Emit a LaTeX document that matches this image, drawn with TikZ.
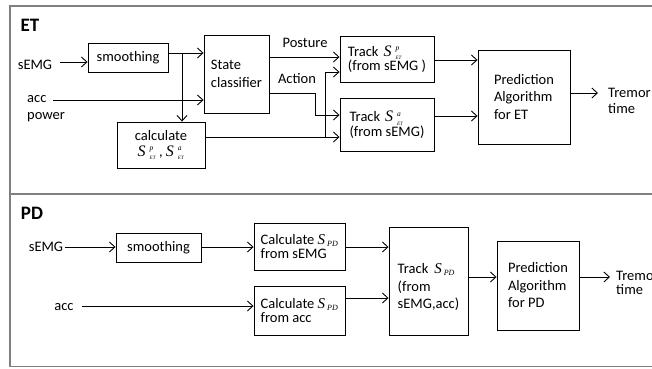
\documentclass[tikz,border=0pt]{standalone}
\usepackage{fontspec}
\setmainfont{Carlito}
\newfontfamily\tms{Liberation Serif}
\usetikzlibrary{arrows.meta,calc}

% italic S with stacked super/subscript, and with subscript only
\newcommand\Ssup[2]{{\tms\itshape\fontsize{16}{16}\selectfont S}\hspace{4pt}$\vphantom{X}^{\hbox{\tms\itshape\fontsize{7.5}{7.5}\selectfont #1}}_{\hbox{\tms\itshape\fontsize{5}{5}\selectfont #2}}$}
\newcommand\Ssub[1]{{\tms\itshape\fontsize{15}{15}\selectfont S}\hspace{2pt}$\vphantom{X}_{\hbox{\tms\itshape\fontsize{8}{8}\selectfont #1}}$}

\tikzset{
  frame/.style={draw=black!50, line width=1.3pt},
  box/.style={draw, line width=0.9pt, inner sep=0pt},
  txt/.style={inner sep=0pt},
  arr/.style={line width=0.9pt, -{Straight Barb[length=5.5pt,width=10pt]}},
}

\begin{document}
\begin{tikzpicture}[x=1pt,y=-1pt, font=\fontsize{14.5}{17.5}\selectfont]
\useasboundingbox (0,0) rectangle (652,368);

% panels
\draw[frame] (10,6) rectangle (690,194);
\draw[frame] (10,194) rectangle (690,366.5);

% ---------------- ET ----------------
\node[txt, font=\fontsize{19}{19}\selectfont\bfseries] (et) at (30,25) {ET};
\node[txt] (semg1) at (35,65) {sEMG};
\node[txt, align=left, anchor=west] (accp) at (27,108.5) {acc\\power};
\coordinate (semg1out) at (60,62);
\coordinate (accout) at (53,100);

\node[box, minimum width=80pt, minimum height=29pt] (sm1) at (128,57.5) {smoothing};
\node[box, minimum width=65pt, minimum height=78pt, align=left] (sc) at (236.5,74) {State\\classifier};
\node[box, minimum width=88pt, minimum height=46pt, align=center] (calc) at (161,145)
  {calculate\\[-2pt]\Ssup{p}{ET}\hspace{3pt}, \Ssup{a}{ET}};
\node[box, minimum width=94pt, minimum height=46pt, align=left] (tp) at (387,59)
  {Track\hspace{5pt}\Ssup{p}{ET}\\[-3pt](from sEMG )};
\node[box, minimum width=94pt, minimum height=53pt, align=left] (ta) at (387,124.5)
  {Track\hspace{5pt}\Ssup{a}{ET}\\[-3pt](from sEMG)};
\node[box, minimum width=92pt, minimum height=94pt, align=left] (pe) at (524,97)
  {Prediction\\Algorithm\\for ET};
\node[txt, align=left, anchor=west] (tr1) at (608,101) {Tremor\\[-1.5pt]time};
\coordinate (tr1in) at (598,93);

\node[txt] (post) at (305,43) {Posture};
\node[txt] (act) at (297,79) {Action};

\draw[arr] (semg1out) -- (sm1.west |- semg1out);
\draw[arr] (accout) -- (sc.west |- accout);
\draw[arr] (sm1.east |- 0,53) -- (sc.west |- 0,53);
\draw[arr] (182,53) -- (calc.north -| 182,0);
\draw[arr] (sc.east |- 0,57) -- (tp.west |- 0,57);
\draw[arr] (sc.east |- 0,93) -- (315,93) -- (315,115) -- (ta.west |- 0,115);
\draw[arr] (calc.east |- 0,137) -- (ta.west |- 0,137);
\draw[arr] (325,137) -- (325,72) -- (tp.west |- 0,72);
\draw[arr] (tp.east |- 0,60) -- (pe.west |- 0,60);
\draw[arr] (ta.east |- 0,116) -- (pe.west |- 0,116);
\draw[arr] (pe.east |- tr1in) -- (tr1in);

% ---------------- PD ----------------
\node[txt, font=\fontsize{19}{19}\selectfont\bfseries] (pd) at (32,213) {PD};
\node[txt] (semg2) at (46,247) {sEMG};
\node[txt] (acc2) at (64,307) {acc};
\coordinate (semg2out) at (65,247);
\coordinate (acc2out) at (82,306);

\node[box, minimum width=85pt, minimum height=29pt] (sm2) at (158.5,248) {smoothing};
\node[box, minimum width=91pt, minimum height=47pt, align=left] (cs) at (299.5,246.5)
  {Calculate \Ssub{PD}\\[-3pt]from sEMG};
\node[box, minimum width=91pt, minimum height=49pt, align=left] (ca) at (299.5,310.5)
  {Calculate \Ssub{PD}\\[-3pt]from acc};
\node[box, minimum width=79pt, minimum height=108pt, align=left] (tk) at (428.5,281)
  {\rule{0pt}{22pt}Track\hspace{6pt}\Ssub{PD}\\(from\\sEMG,acc)};
\node[box, minimum width=82pt, minimum height=89pt, align=left] (pp) at (538,285.5)
  {Prediction\\Algorithm\\for PD};
\node[txt, align=left, anchor=west] (tr2) at (616,283) {Tremor\\[-3pt]time};
\coordinate (tr2in) at (610,277);

\draw[arr] (semg2out) -- (sm2.west |- semg2out);
\draw[arr] (sm2.east |- 0,247) -- (cs.west |- 0,247);
\draw[arr] (acc2out) -- (ca.west |- acc2out);
\draw[arr] (cs.east |- 0,247) -- (tk.west |- 0,247);
\draw[arr] (ca.east |- 0,298) -- (tk.west |- 0,298);
\draw[arr] (tk.east |- 0,277) -- (pp.west |- 0,277);
\draw[arr] (pp.east |- tr2in) -- (tr2in);
\end{tikzpicture}
\end{document}
